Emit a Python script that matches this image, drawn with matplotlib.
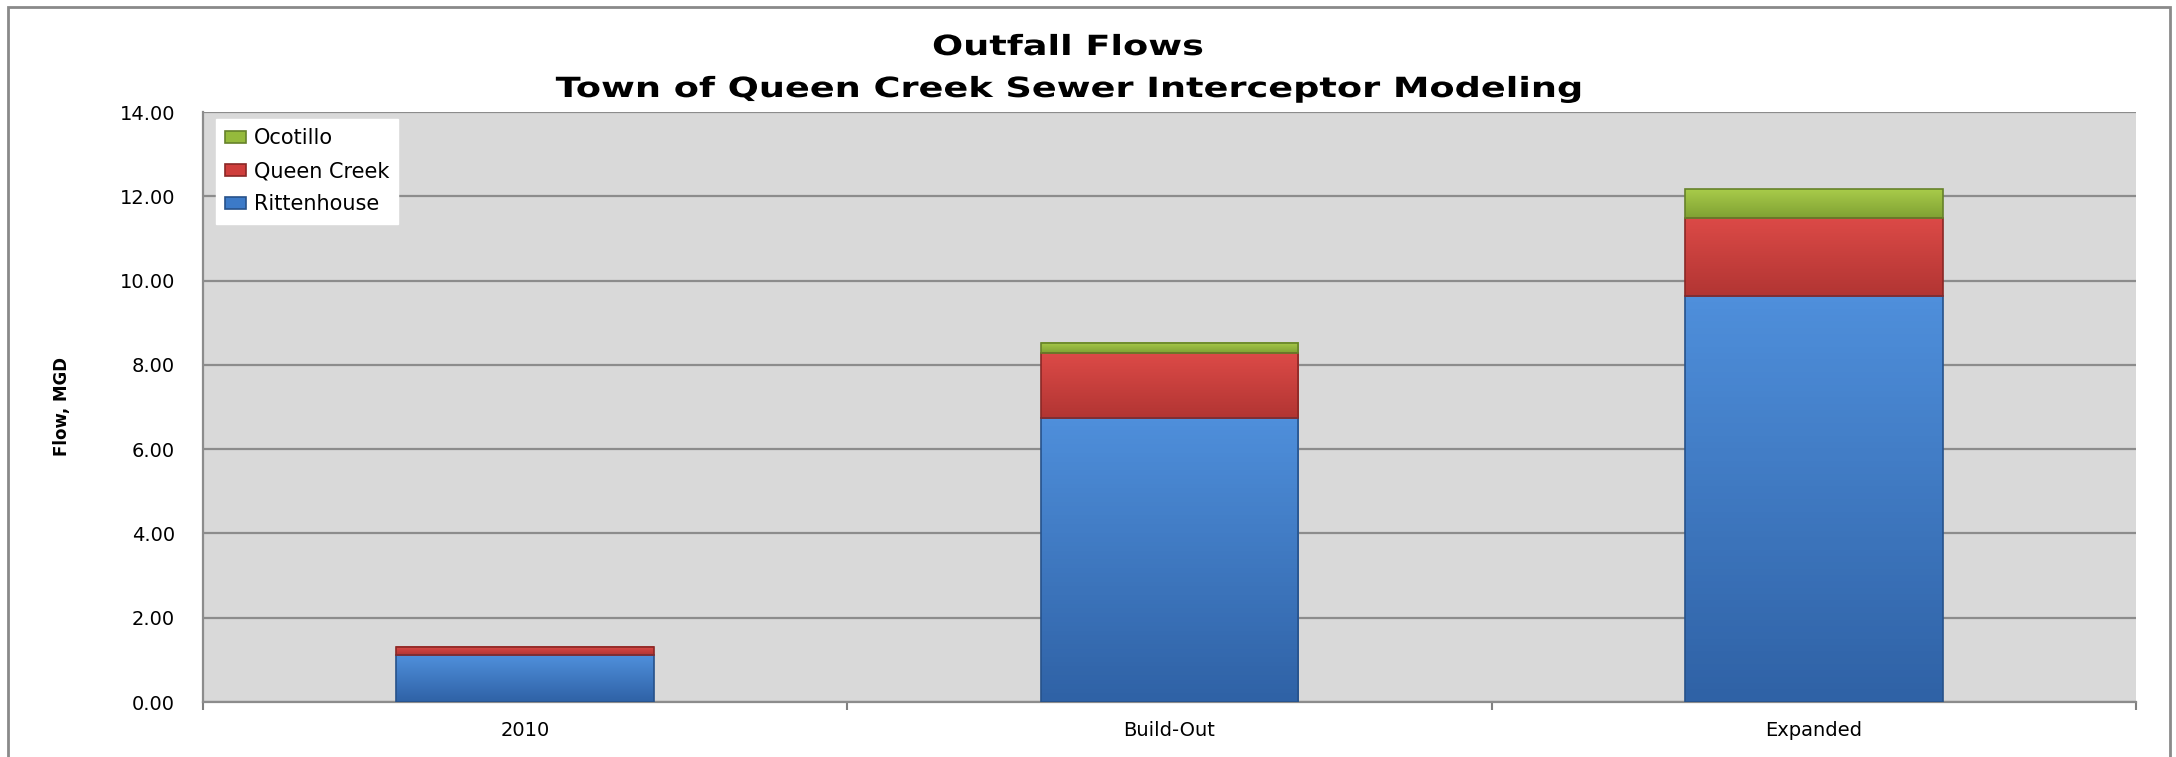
"""
Outfall Flows - Town of Queen Creek Sewer Interceptor Modeling
Stacked bar chart of outfall flows (MGD) per scenario.
"""
# =============================================================================
# MODULES
# -----------------------------------------------------------------------------
import numpy as np
import matplotlib.pyplot as plt
from matplotlib.patches import Rectangle, PathPatch
from matplotlib.textpath import TextPath
from matplotlib.font_manager import FontProperties
from matplotlib.transforms import Affine2D, IdentityTransform
from matplotlib.colors import LinearSegmentedColormap
# =============================================================================

# =============================================================================
# DATA
# -----------------------------------------------------------------------------
scenarios = ['2010', 'Build-Out', 'Expanded']

rittenhouse = [1.11, 6.74, 9.63]   # bottom segment
queen_creek = [0.19, 1.54, 1.86]   # middle segment
ocotillo = [0.00, 0.24, 0.68]      # top segment

yticks = [0, 2, 4, 6, 8, 10, 12, 14]

title1 = 'Outfall Flows'
title2 = 'Town of Queen Creek Sewer Interceptor Modeling'
# =============================================================================

W, H = 2176, 757


# =============================================================================
# FUNCTIONS
# -----------------------------------------------------------------------------
# The original picture is stretched sideways, so the title is drawn as a
# path that is widened by sx (pixel coords, baseline at y_base from top)
def wide_text(fig, cx, y_base, s, size, sx):
    fp = FontProperties(family='DejaVu Sans', weight='bold')
    tp = TextPath((0, 0), s, size=size, prop=fp)
    bb = tp.get_extents()
    k = fig.dpi / 72.0
    tr = (Affine2D().translate(-(bb.x0 + bb.x1) / 2, 0)
          .scale(sx * k, k).translate(cx, H - y_base))
    fig.patches.append(PathPatch(tr.transform_path(tp),
                                 transform=IdentityTransform(),
                                 fc='black', ec='none'))


# vertical light-to-dark fill inside each bar segment (Excel style shading)
def shade(ax, bars, c_top, c_bot):
    cmap = LinearSegmentedColormap.from_list('seg', [c_bot, c_top])
    grad = np.linspace(1, 0, 64).reshape(-1, 1)
    for b in bars:
        if b.get_height() <= 0:
            continue
        x0, y0 = b.get_x(), b.get_y()
        ax.imshow(grad, cmap=cmap, aspect='auto', origin='upper',
                  extent=(x0, x0 + b.get_width(), y0, y0 + b.get_height()),
                  zorder=3.5)
        b.set_facecolor('none')
        b.set_zorder(4)
# =============================================================================

# =============================================================================
# PLOT
# -----------------------------------------------------------------------------
fig = plt.figure(figsize=(W / 100, H / 100), dpi=100)
fig.patch.set_facecolor('white')

# outer chart border
fig.patches.append(Rectangle((8 / W, -0.01), (2170 - 8) / W, 1 - 7 / H + 0.01,
                             transform=fig.transFigure, fill=False,
                             edgecolor='#8a8a8a', lw=2.0))

ax = fig.add_axes([203 / W, 1 - 702 / H, (2136 - 203) / W, (702 - 112) / H])
ax.set_facecolor('#d9d9d9')

x = np.arange(len(scenarios))
bw = 0.4
r = np.array(rittenhouse)
q = np.array(queen_creek)
o = np.array(ocotillo)

b1 = ax.bar(x, r, bw, color='#3c7ac8', edgecolor='#27528a', lw=1.2,
            label='Rittenhouse', zorder=3)
b2 = ax.bar(x, q, bw, bottom=r, color='#cf3e3c', edgecolor='#8a2826', lw=1.2,
            label='Queen Creek', zorder=3)
b3 = ax.bar(x, o, bw, bottom=r + q, color='#95ba3c', edgecolor='#66822a',
            lw=1.2, label='Ocotillo', zorder=3)

# legend first (reversed order like the original), so it keeps flat colours
h, l = ax.get_legend_handles_labels()
leg = ax.legend(h[::-1], l[::-1], loc='upper left',
                bbox_to_anchor=(13 / (2136 - 203), 1 - 7 / 590),
                fontsize=15, frameon=True, fancybox=False,
                handlelength=1.0, handleheight=0.5, handletextpad=0.35,
                labelspacing=0.62, borderpad=0.45, borderaxespad=0)
leg.get_frame().set_facecolor('white')
leg.get_frame().set_edgecolor('white')
leg.get_frame().set_alpha(1)
leg.set_zorder(10)

shade(ax, b1, '#4f8fdb', '#2f62a6')
shade(ax, b2, '#dc4a47', '#b23533')
shade(ax, b3, '#a8cb4a', '#80a133')

# axes, ticks, grid
ax.set_xlim(-0.5, 2.5)
ax.set_ylim(0, 14)
ax.set_yticks(yticks)
ax.set_yticklabels(['{:.2f}'.format(v) for v in yticks], fontsize=14)
ax.set_xticks(x)
ax.set_xticklabels(scenarios, fontsize=14)
ax.set_xticks([-0.5, 0.5, 1.5, 2.5], minor=True)
ax.tick_params(axis='x', which='major', length=0, pad=14)
ax.tick_params(axis='x', which='minor', length=6, width=1.5, color='#808080')
ax.tick_params(axis='y', length=0, pad=20)
ax.yaxis.grid(True, color='#8c8c8c', lw=1.6, zorder=1)
ax.set_axisbelow(True)
for s in ['top', 'right']:
    ax.spines[s].set_visible(False)
for s in ['left', 'bottom']:
    ax.spines[s].set_color('#8c8c8c')
    ax.spines[s].set_linewidth(1.6)

ax.set_ylabel('Flow, MGD', fontsize=12, fontweight='bold',
              family=['Liberation Sans Narrow', 'DejaVu Sans'])
ax.yaxis.set_label_coords((71 - 203) / (2136 - 203), 0.5)

# two-line title, widened like the original
wide_text(fig, 1068, 55, title1, 20, 1.32)
wide_text(fig, 1068, 97, title2, 20, 1.32)

plt.savefig('out.png', dpi=100)
